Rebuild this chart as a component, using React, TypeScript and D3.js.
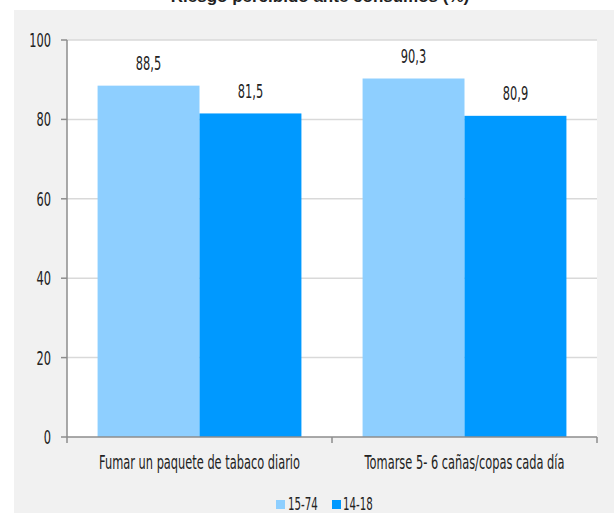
import React from "react";
import * as d3 from "d3";

const categories = ["Fumar un paquete de tabaco diario", "Tomarse 5- 6 cañas/copas cada día"];
const seriesNames = ["15-74", "14-18"];
const values1574 = [88.5, 90.3];
const values1418 = [81.5, 80.9];
const yTicks = [0, 20, 40, 60, 80, 100];
const colors = ["#8ECFFF", "#0099FF"];
const title = "Riesgo percibido ante consumos (%)";

const W = 614, H = 513;
const FONT = "'DejaVu Sans', sans-serif";
const FS = 19;

function NText({ x, y, sx, anchor = "start", children, size = FS }: any) {
  return (
    <text
      transform={`translate(${x},${y}) scale(${sx},1)`}
      textAnchor={anchor}
      fontSize={size}
      fill="#222"
      fontFamily={FONT}
    >
      {children}
    </text>
  );
}

export default function App() {
  const left = 67, right = 597, top = 40, bottom = 437;
  const x = d3.scaleBand<string>().domain(categories).range([left, right]).paddingInner(0).paddingOuter(0);
  const inner = d3.scaleBand<string>().domain(seriesNames).range([0, x.bandwidth()]).paddingInner(0).paddingOuter(0.3);
  const y = d3.scaleLinear().domain([0, 100]).range([bottom, top]);
  const series = [values1574, values1418];
  const fmt = (v: number) => v.toFixed(1).replace(".", ",");

  return (
    <svg width={W} height={H} style={{ position: "absolute", left: 0, top: 0 }} fontFamily={FONT}>
      <rect x={0} y={0} width={W} height={H} fill="#ffffff" />
      <text x={320} y={2} textAnchor="middle" fontWeight="bold" fontSize={17} fill="#222" fontFamily="'Liberation Sans', Arial, sans-serif">{title}</text>
      <rect x={14} y={10} width={W - 14} height={H - 10} fill="#F1F1F1" />
      <rect x={left} y={top} width={right - left} height={bottom - top} fill="#ffffff" />
      {yTicks.map((t) => (
        <g key={t}>
          {t > 0 && <line x1={left} x2={right} y1={y(t)} y2={y(t)} stroke="#D9D9D9" strokeWidth={1.5} />}
          <line x1={left - 6} x2={left} y1={y(t)} y2={y(t)} stroke="#8C8C8C" strokeWidth={1.5} />
          <NText x={51} y={y(t) + 7} sx={0.6} anchor="end">{t}</NText>
        </g>
      ))}
      {categories.map((c, i) => (
        <g key={c}>
          {series.map((vals, s) => {
            const bx = (x(c) as number) + (inner(seriesNames[s]) as number);
            const bw = inner.bandwidth();
            return (
              <g key={s}>
                <rect x={bx} y={y(vals[i])} width={bw} height={bottom - y(vals[i])} fill={colors[s]} />
                <NText x={bx + bw / 2} y={y(vals[i]) - 15.5} sx={0.6} anchor="middle">{fmt(vals[i])}</NText>
              </g>
            );
          })}
          <NText x={(x(c) as number) + x.bandwidth() / 2} y={469} sx={0.6} anchor="middle">{c}</NText>
        </g>
      ))}
      <line x1={left} x2={left} y1={top} y2={bottom} stroke="#8C8C8C" strokeWidth={1.5} />
      <line x1={left} x2={right} y1={bottom} y2={bottom} stroke="#8C8C8C" strokeWidth={1.5} />
      {[...categories.map((c) => x(c) as number), right].map((tx, i) => (
        <line key={i} x1={tx} x2={tx} y1={bottom} y2={bottom + 6} stroke="#8C8C8C" strokeWidth={1.5} />
      ))}
      <g>
        <rect x={276} y={500} width={9} height={9} fill={colors[0]} />
        <NText x={288} y={510} sx={0.57} size={18}>{seriesNames[0]}</NText>
        <rect x={332} y={500} width={9} height={9} fill={colors[1]} />
        <NText x={343} y={510} sx={0.57} size={18}>{seriesNames[1]}</NText>
      </g>
    </svg>
  );
}
